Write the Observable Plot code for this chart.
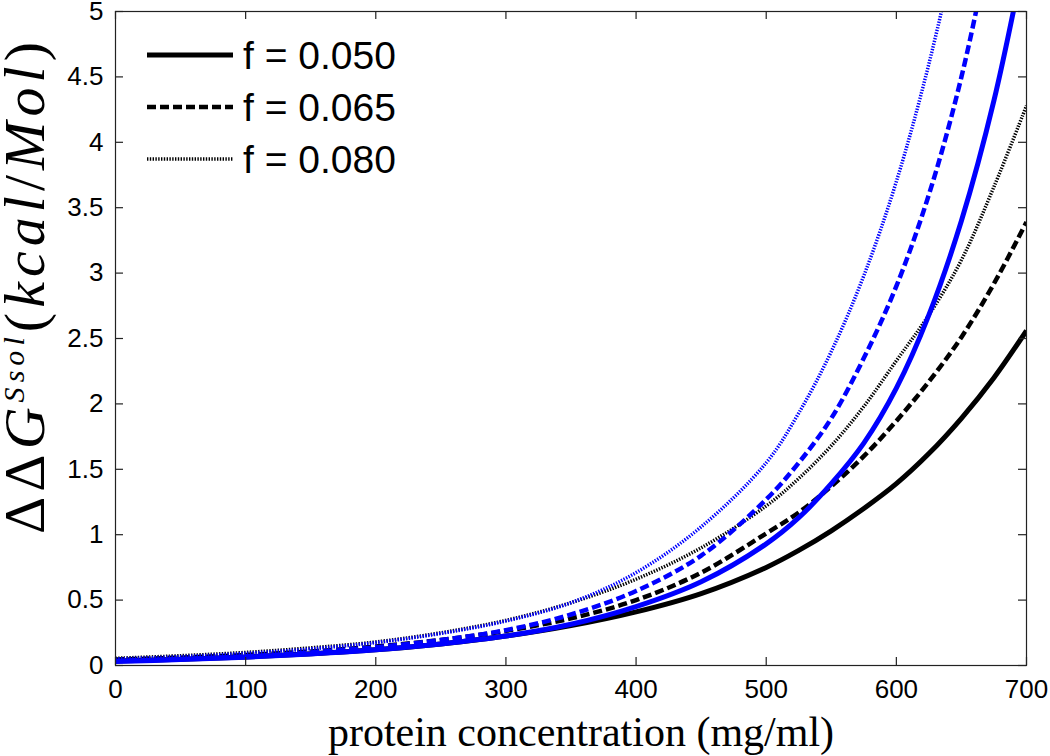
<!DOCTYPE html>
<html><head><meta charset="utf-8">
<script src="https://cdn.jsdelivr.net/npm/d3@7"></script>
<script src="https://cdn.jsdelivr.net/npm/@observablehq/plot@0.6"></script>
<style>html,body{margin:0;padding:0;background:#fff} svg{display:block}</style>
</head><body><div id="chart"></div>
<script>
// protein concentration (mg/ml)
const conc = [0, 50, 100, 150, 200, 250, 300, 350, 400, 450, 500, 525, 550, 575, 600, 625, 650, 675, 700];
// black curves
const blackF050 = [0.035, 0.048, 0.065, 0.09, 0.12, 0.165, 0.225, 0.305, 0.41, 0.55, 0.75, 0.88, 1.03, 1.20, 1.39, 1.62, 1.89, 2.20, 2.56];
const blackF065 = [0.045, 0.06, 0.08, 0.107, 0.145, 0.195, 0.265, 0.36, 0.50, 0.71, 1.01, 1.17, 1.37, 1.60, 1.87, 2.17, 2.51, 2.92, 3.39];
const blackF080 = [0.055, 0.075, 0.10, 0.135, 0.18, 0.25, 0.345, 0.48, 0.66, 0.90, 1.22, 1.43, 1.68, 1.98, 2.33, 2.68, 3.10, 3.66, 4.28];
// blue curves
const blueF050 = [0.03, 0.045, 0.063, 0.088, 0.12, 0.165, 0.225, 0.315, 0.45, 0.64, 0.93, 1.13, 1.39, 1.70, 2.12, 2.68, 3.40, 4.32, 5.50];
const blueF065 = [0.035, 0.05, 0.07, 0.10, 0.14, 0.195, 0.27, 0.39, 0.57, 0.84, 1.27, 1.55, 1.89, 2.35, 2.90, 3.60, 4.50, 5.70, 7.20];
const blueF080 = [0.05, 0.068, 0.093, 0.127, 0.175, 0.245, 0.34, 0.48, 0.71, 1.06, 1.55, 1.93, 2.40, 2.98, 3.70, 4.60, 5.70, 7.00, 8.60];

const xTicks = [0, 100, 200, 300, 400, 500, 600, 700];
const yTicks = [0, 0.5, 1, 1.5, 2, 2.5, 3, 3.5, 4, 4.5, 5];
const legendLabels = ["f = 0.050", "f = 0.065", "f = 0.080"];
const xLabel = "protein concentration (mg/ml)";

const styles = {
  solid:  {strokeWidth: 5,   dash: "none"},
  dashed: {strokeWidth: 4.5, dash: "9,4"},
  dotted: {strokeWidth: 3.5, dash: "1.4,1.4"}
};
const series = [
  {values: blackF050, color: "#000000", style: "solid"},
  {values: blackF065, color: "#000000", style: "dashed"},
  {values: blackF080, color: "#000000", style: "dotted"},
  {values: blueF050,  color: "#0000ff", style: "solid"},
  {values: blueF065,  color: "#0000ff", style: "dashed"},
  {values: blueF080,  color: "#0000ff", style: "dotted"}
];

const W = 1050, H = 756;
const mL = 115, mR = 24, mT = 11, mB = 91;
const frameW = W - mL - mR, frameH = H - mT - mB;
const tickLen = 8;

const lineMarks = series.map(s => Plot.line(
  conc.map((c, i) => ({x: c, y: s.values[i]})),
  {x: "x", y: "y", stroke: s.color, strokeWidth: styles[s.style].strokeWidth,
   strokeDasharray: styles[s.style].dash, curve: "catmull-rom", clip: true,
   className: "ln-" + s.style}
));

const sans = "'Liberation Sans', Arial, Helvetica, sans-serif";
const serif = "'Liberation Serif', 'Times New Roman', serif";

const chart = Plot.plot({
  width: W, height: H,
  marginLeft: mL, marginRight: mR, marginTop: mT, marginBottom: mB,
  style: {fontFamily: sans, background: "#fff", overflow: "visible"},
  x: {domain: [0, 700]},
  y: {domain: [0, 5]},
  marks: [
    ...lineMarks,
    Plot.frame({stroke: "#222", strokeWidth: 1.2}),
    Plot.tickX(xTicks, {x: d => d, insetTop: frameH - tickLen, stroke: "#222", strokeWidth: 1.2}),
    Plot.tickX(xTicks, {x: d => d, insetBottom: frameH - tickLen, stroke: "#222", strokeWidth: 1.2}),
    Plot.tickY(yTicks, {y: d => d, insetRight: frameW - tickLen, stroke: "#222", strokeWidth: 1.2}),
    Plot.tickY(yTicks, {y: d => d, insetLeft: frameW - tickLen, stroke: "#222", strokeWidth: 1.2}),
    Plot.axisX({ticks: xTicks, tickSize: 0, tickPadding: 14, fontSize: 26, label: null, fill: "#000", tickFormat: d => String(d)}),
    Plot.axisY({ticks: yTicks, tickSize: 0, tickPadding: 12, fontSize: 26, label: null, fill: "#000", tickFormat: d => String(d)}),
    Plot.text([xLabel], {frameAnchor: "bottom", text: d => d, dy: 80, dx: 10, lineAnchor: "bottom",
      fontSize: 42, fontFamily: serif, fill: "#000"})
  ]
});

const svg = d3.select(chart);

// make sure the dash patterns are on every path of each line
Object.entries(styles).forEach(([k, st]) => {
  svg.selectAll(".ln-" + k + " path")
    .attr("stroke-dasharray", st.dash)
    .attr("stroke-width", st.strokeWidth)
    .attr("stroke-linecap", "butt");
});

// Y label (rotated, LaTeX-like)
const yl = svg.append("text")
  .attr("transform", "translate(44,534) rotate(-90)")
  .attr("text-anchor", "start")
  .attr("font-family", serif)
  .attr("font-size", 58)
  .attr("fill", "#000")
  .attr("textLength", 492)
  .attr("lengthAdjust", "spacing");
yl.append("tspan").text("ΔΔ");
yl.append("tspan").attr("font-style", "italic").text("G");
yl.append("tspan").attr("font-style", "italic").attr("font-size", 30).attr("dy", -20).text("Ssol");
yl.append("tspan").attr("dy", 20).text("(");
yl.append("tspan").attr("font-style", "italic").text("kcal");
yl.append("tspan").text("/");
yl.append("tspan").attr("font-style", "italic").text("Mol");
yl.append("tspan").text(")");

// Legend (black line styles only)
const lg = svg.append("g").attr("text-anchor", "start");
const legStyles = ["solid", "dashed", "dotted"];
legendLabels.forEach((lab, i) => {
  const yy = 55 + i * 52;
  const st = styles[legStyles[i]];
  lg.append("line").attr("x1", 147).attr("x2", 233).attr("y1", yy).attr("y2", yy)
    .attr("stroke", "#000").attr("stroke-width", st.strokeWidth)
    .attr("stroke-dasharray", st.dash);
  lg.append("text").attr("x", 243).attr("y", yy).attr("dy", "0.36em")
    .attr("text-anchor", "start")
    .attr("font-family", sans).attr("font-size", 39).attr("fill", "#000").text(lab);
});

document.getElementById("chart").appendChild(chart);
</script>
</body></html>
